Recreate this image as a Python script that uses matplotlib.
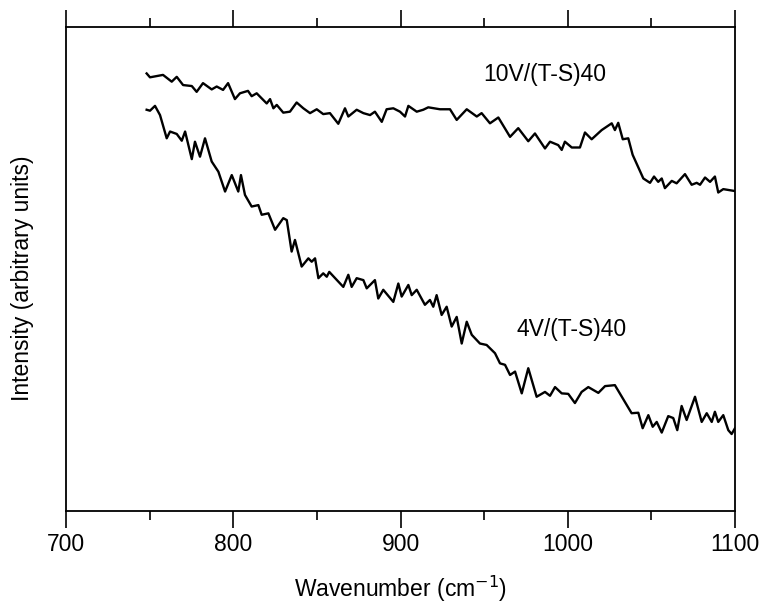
import matplotlib
matplotlib.use("Agg")
import matplotlib.pyplot as plt
from matplotlib.ticker import MultipleLocator

plt.rcParams['font.family'] = ['Liberation Sans', 'DejaVu Sans']

# 10V/(T-S)40 spectrum
wn_10v = [748.2, 750.2, 758.0, 763.2, 766.2, 770.0, 775.2, 778.1, 781.9, 787.1,
          790.1, 793.9, 796.9, 801.0, 804.0, 808.8, 811.0, 814.0, 820.0, 822.0,
          824.0, 826.0, 829.9, 833.9, 837.9, 841.9, 845.9, 849.9, 853.8, 857.8,
          862.8, 866.8, 868.8, 873.8, 877.8, 881.8, 884.7, 888.8, 891.7, 895.7,
          899.7, 902.7, 904.7, 909.7, 913.6, 916.6, 923.6, 929.6, 933.6, 939.6,
          945.6, 948.5, 953.5, 958.5, 965.5, 970.4, 976.4, 980.4, 986.4, 989.4,
          994.3, 996.4, 998.3, 1002.4, 1007.3, 1010.3, 1014.3, 1020.3, 1026.3, 1028.2,
          1030.2, 1032.9, 1036.2, 1038.8, 1045.2, 1049.2, 1051.6, 1054.1, 1056.2, 1058.1,
          1062.2, 1065.1, 1070.1, 1074.1, 1077.1, 1079.1, 1082.1, 1085.1, 1088.0, 1090.0,
          1093.0, 1100.0]
int_10v = [90.4, 89.6, 90.1, 88.7, 89.7, 88.0, 87.8, 86.6, 88.4, 87.1,
           87.7, 87.0, 88.4, 85.1, 86.3, 86.8, 85.7, 86.3, 84.2, 85.1,
           83.2, 83.9, 82.3, 82.5, 84.4, 83.2, 82.2, 83.0, 82.0, 82.2,
           80.0, 83.2, 81.5, 82.9, 82.2, 81.8, 82.5, 80.4, 83.0, 83.2,
           82.5, 81.5, 83.7, 82.5, 82.9, 83.4, 83.0, 83.0, 80.8, 83.0,
           81.5, 82.2, 80.1, 81.3, 77.3, 79.1, 76.4, 78.0, 74.9, 76.3,
           75.6, 74.6, 76.3, 75.1, 75.1, 78.2, 76.8, 78.7, 80.1, 78.7,
           80.2, 76.8, 77.0, 73.6, 68.7, 67.8, 69.1, 68.0, 68.7, 66.7,
           68.2, 67.7, 69.6, 67.4, 67.8, 67.4, 68.9, 68.0, 69.1, 65.8,
           66.5, 66.1]

# 4V/(T-S)40 spectrum
wn_4v = [748.2, 750.2, 753.2, 756.2, 760.2, 762.2, 766.2, 769.2, 771.2, 775.2,
         777.1, 780.1, 783.1, 787.1, 791.1, 795.1, 799.1, 803.0, 804.6, 807.0,
         811.0, 815.0, 817.0, 821.0, 825.0, 829.9, 832.0, 834.9, 836.9, 840.9,
         844.9, 846.9, 848.9, 850.9, 853.8, 855.9, 857.4, 862.8, 865.8, 868.8,
         870.8, 873.8, 877.8, 879.8, 884.7, 886.7, 889.7, 895.7, 898.7, 900.7,
         904.7, 906.7, 909.7, 914.6, 917.6, 919.6, 921.6, 924.6, 927.6, 930.6,
         933.6, 936.6, 939.6, 942.6, 947.5, 951.5, 956.5, 959.5, 962.5, 965.5,
         968.5, 972.5, 976.4, 981.4, 986.4, 989.4, 992.4, 996.4, 1000.3, 1004.3,
         1008.3, 1012.3, 1018.3, 1022.3, 1028.2, 1038.2, 1042.2, 1044.8, 1048.2, 1050.8,
         1053.2, 1056.2, 1060.1, 1063.1, 1065.5, 1068.1, 1071.1, 1076.1, 1080.1, 1083.1,
         1086.1, 1088.0, 1090.0, 1093.0, 1096.0, 1098.0, 1100.0]
int_4v = [82.9, 82.7, 83.7, 81.8, 77.0, 78.4, 77.9, 76.5, 78.4, 72.7,
          76.3, 73.2, 77.0, 72.2, 70.1, 66.0, 69.4, 66.0, 69.4, 65.3,
          62.9, 63.2, 61.2, 61.5, 58.1, 60.5, 60.1, 53.6, 56.0, 50.5,
          52.2, 51.5, 52.2, 48.1, 49.1, 48.4, 49.4, 47.4, 46.3, 48.8,
          46.3, 48.1, 47.7, 46.0, 47.7, 43.9, 45.7, 43.2, 47.0, 44.3,
          46.7, 44.6, 45.7, 42.6, 43.6, 42.2, 44.6, 40.5, 42.2, 38.1,
          40.1, 34.6, 39.1, 36.4, 34.6, 34.3, 32.6, 30.5, 30.2, 28.1,
          28.8, 24.3, 29.5, 23.6, 24.6, 23.8, 25.6, 24.3, 24.2, 22.3,
          24.6, 25.6, 24.4, 25.8, 26.0, 20.2, 20.3, 17.1, 19.8, 17.4,
          18.4, 16.2, 19.6, 19.2, 16.7, 21.7, 18.8, 23.6, 18.4, 20.2,
          18.4, 20.5, 18.4, 19.8, 16.7, 15.9, 17.1]

fig = plt.figure(figsize=(7.66, 6.05), dpi=100)
ax = fig.add_axes([0.0862, 0.1554, 0.8733, 0.80])

ax.plot(wn_10v, int_10v, color='black', lw=1.7)
ax.plot(wn_4v, int_4v, color='black', lw=1.7)

ax.text(986, 90.1, '10V/(T-S)40', fontsize=16.5, ha='center', va='center')
ax.text(1002, 37.4, '4V/(T-S)40', fontsize=16.5, ha='center', va='center')

ax.set_xlim(700, 1100)
ax.set_ylim(0, 100)
ax.xaxis.set_major_locator(MultipleLocator(100))
ax.xaxis.set_minor_locator(MultipleLocator(50))
ax.set_yticks([])
ax.tick_params(axis='x', which='both', direction='out', top=True, bottom=True,
               labeltop=False, labelsize=16.5, width=1.2, pad=4)
ax.tick_params(axis='x', which='major', length=12)
ax.tick_params(axis='x', which='minor', length=6.5)
for s in ax.spines.values():
    s.set_linewidth(1.3)

ax.set_xlabel('Wavenumber (cm$^{-1}$)', fontsize=16.5, labelpad=13)
ax.set_ylabel('Intensity (arbitrary units)', fontsize=16.5)
ax.yaxis.set_label_coords(-0.048, 0.48)

fig.savefig('out.png', dpi=100)
